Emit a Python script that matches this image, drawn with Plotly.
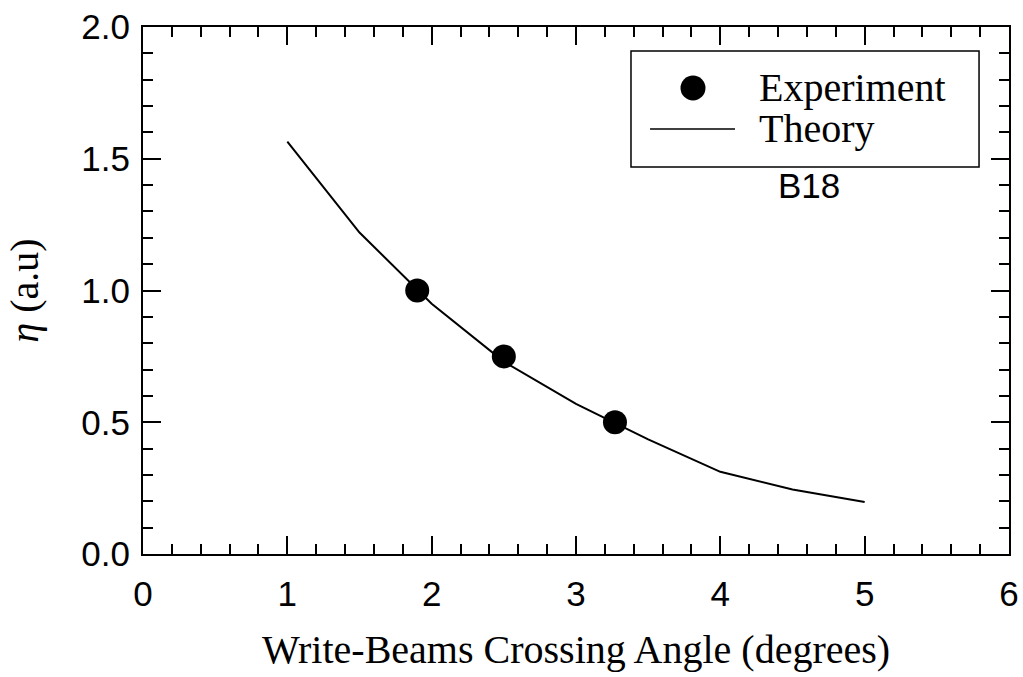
import plotly.graph_objects as go

# Data
exp_angle = [1.9, 2.5, 3.27]
exp_eta = [1.0, 0.75, 0.5]

theory_angle = [1.0, 1.5, 2.0, 2.5, 3.0, 3.5, 4.0, 4.5, 5.0]
theory_eta = [1.565, 1.22, 0.95, 0.73, 0.57, 0.435, 0.312, 0.245, 0.197]

x_ticks = [0, 1, 2, 3, 4, 5, 6]
y_ticks = [0.0, 0.5, 1.0, 1.5, 2.0]
y_ticklabels = ["0.0", "0.5", "1.0", "1.5", "2.0"]

legend_labels = ["Experiment", "Theory"]
panel_label = "B18"

SERIF = "Liberation Serif"
SANS = "Liberation Sans"

fig = go.Figure()
fig.add_trace(go.Scatter(
    x=theory_angle, y=theory_eta, mode="lines", name=legend_labels[1],
    line=dict(color="black", width=2), showlegend=False))
fig.add_trace(go.Scatter(
    x=exp_angle, y=exp_eta, mode="markers", name=legend_labels[0],
    marker=dict(color="black", size=24), showlegend=False))

axis_common = dict(
    showgrid=False, zeroline=False, showline=True, linecolor="black", linewidth=2,
    mirror="allticks", ticks="inside", ticklen=18, tickwidth=1.5, tickcolor="black",
    tickfont=dict(family=SANS, size=35, color="black"), automargin=False,
)

fig.update_xaxes(
    range=[0, 6], tickvals=x_ticks, ticktext=[str(v) for v in x_ticks],
    minor=dict(dtick=0.2, ticks="inside", ticklen=10, tickwidth=1.5, tickcolor="black"),
    title=dict(text="Write-Beams Crossing Angle (degrees)",
               font=dict(family=SERIF, size=40, color="black"), standoff=23),
    ticklabelstandoff=8,
    **axis_common)
fig.update_yaxes(
    range=[0, 2], tickvals=y_ticks, ticktext=y_ticklabels,
    minor=dict(dtick=0.1, ticks="inside", ticklen=10, tickwidth=1.5, tickcolor="black"),
    title=dict(text="<i>η</i> (a.u)", font=dict(family=SERIF, size=40, color="black"),
               standoff=30),
    ticklabelstandoff=4,
    **axis_common)

# Legend box drawn in paper coordinates
fig.add_shape(type="rect", xref="paper", yref="paper",
              x0=0.5635, x1=0.9654, y0=0.7343, y1=0.9545,
              line=dict(color="black", width=1.5), fillcolor="white", layer="below")
fig.add_shape(type="circle", xref="paper", yref="paper", xsizemode="pixel", ysizemode="pixel",
              xanchor=0.6351, yanchor=0.8843, x0=-12.5, x1=12.5, y0=-12.5, y1=12.5,
              line=dict(color="black", width=0), fillcolor="black")
fig.add_shape(type="line", xref="paper", yref="paper",
              x0=0.5855, x1=0.6836, y0=0.8065, y1=0.8065,
              line=dict(color="black", width=1.5))
fig.add_annotation(xref="paper", yref="paper", x=0.709, y=0.8843, xanchor="left", yanchor="middle",
                   text=legend_labels[0], showarrow=False,
                   font=dict(family=SERIF, size=40, color="black"))
fig.add_annotation(xref="paper", yref="paper", x=0.709, y=0.8065, xanchor="left", yanchor="middle",
                   text=legend_labels[1], showarrow=False,
                   font=dict(family=SERIF, size=40, color="black"))
fig.add_annotation(xref="paper", yref="paper", x=0.769, y=0.700, xanchor="center", yanchor="middle",
                   text=panel_label, showarrow=False,
                   font=dict(family=SANS, size=35, color="black"))

fig.update_layout(
    width=1023, height=677,
    margin=dict(l=143, r=14, t=27, b=123),
    paper_bgcolor="white", plot_bgcolor="white",
    showlegend=False,
)

fig.write_html("out.html")
